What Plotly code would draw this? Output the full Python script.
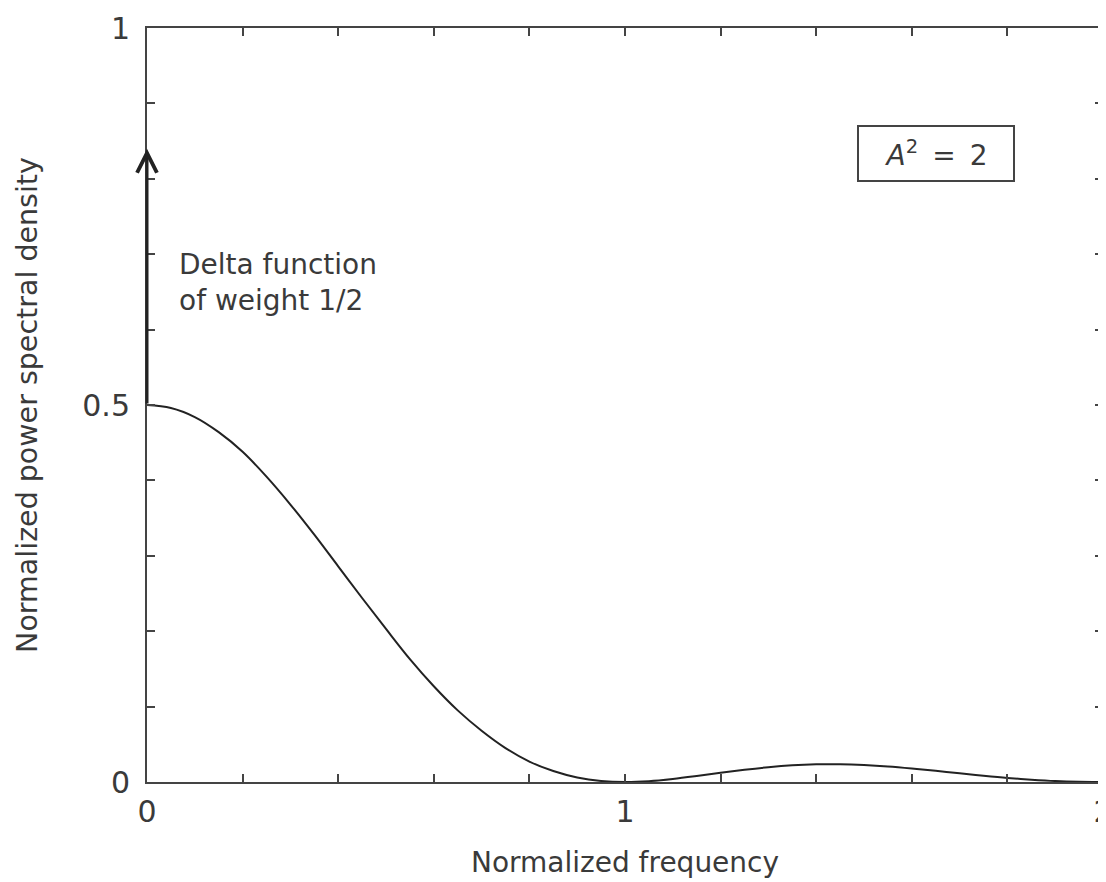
import plotly.graph_objects as go

# Data
freq = [0.0, 0.05, 0.1, 0.15, 0.2, 0.25, 0.3, 0.35, 0.4, 0.45, 0.5, 0.55, 0.6, 0.65, 0.7,
        0.75, 0.8, 0.85, 0.9, 0.95, 1.0, 1.05, 1.1, 1.15, 1.2, 1.25, 1.3, 1.35, 1.4, 1.45,
        1.5, 1.55, 1.6, 1.65, 1.7, 1.75, 1.8, 1.85, 1.9, 1.95, 2.0]
psd = [0.500, 0.496, 0.484, 0.464, 0.438, 0.405, 0.368, 0.328, 0.286, 0.244, 0.203, 0.163,
       0.127, 0.095, 0.068, 0.045, 0.027, 0.0145, 0.006, 0.0014, 0.0, 0.0011, 0.004, 0.0079,
       0.0122, 0.0162, 0.0196, 0.0221, 0.0234, 0.0235, 0.0225, 0.0206, 0.0179, 0.0148,
       0.0115, 0.0083, 0.0054, 0.0031, 0.0013, 0.0003, 0.0]
delta_x = 0.0
delta_base = 0.5
delta_tip = 0.84
x_ticklabels = ["0", "1", "2"]
y_ticklabels = ["0", "0.5", "1"]

FONT = "DejaVu Sans"
AXC = "#444444"
TXT = "#3a3a3a"

fig = go.Figure()
fig.add_trace(go.Scatter(x=freq, y=psd, mode="lines", line=dict(color="#222222", width=2, shape="spline"),
                         hoverinfo="skip", showlegend=False))

# Delta arrow
fig.add_annotation(x=delta_x, y=delta_tip, ax=delta_x, ay=delta_base, xref="x", yref="y",
                   axref="x", ayref="y", showarrow=True, arrowhead=5, arrowsize=1.3,
                   arrowwidth=3, arrowcolor="#222222", text="")
fig.add_annotation(x=0.063, y=0.663, xref="x", yref="y", xanchor="left", yanchor="middle",
                   text="Delta function<br>of weight 1/2", showarrow=False, align="left",
                   font=dict(family=FONT, size=28, color=TXT))
fig.add_annotation(x=1.651, y=0.833, xref="x", yref="y", showarrow=False,
                   text="<i>A</i><sup>2</sup>\u2002=\u20022", width=148, height=47, borderpad=3,
                   bordercolor=AXC, borderwidth=2, bgcolor="white",
                   font=dict(family=FONT, size=28, color=TXT))

axis_common = dict(showgrid=False, zeroline=False, showline=True, linecolor=AXC, linewidth=2,
                   mirror="ticks", ticks="inside", ticklen=8, tickwidth=2, tickcolor=AXC,
                   ticklabeloverflow="allow",
                   tickfont=dict(family=FONT, size=30, color=TXT))

fig.update_xaxes(range=[0, 2], tickmode="array", tickvals=[0, 0.2, 0.4, 0.6, 0.8, 1, 1.2, 1.4, 1.6, 1.8, 2],
                 ticktext=[x_ticklabels[0], "", "", "", "", x_ticklabels[1], "", "", "", "", x_ticklabels[2]],
                 ticklabelstandoff=2,
                 title=dict(text="Normalized frequency", font=dict(family=FONT, size=28, color=TXT), standoff=24),
                 **axis_common)
fig.update_yaxes(range=[0, 1], tickmode="array", tickvals=[i / 10 for i in range(11)],
                 ticktext=[y_ticklabels[0], "", "", "", "", y_ticklabels[1], "", "", "", "", y_ticklabels[2]],
                 ticklabelstandoff=9,
                 title=dict(text="Normalized power spectral density", font=dict(family=FONT, size=28.5, color=TXT), standoff=36),
                 **axis_common)

# the page body adds an 8px offset, so the figure is 8px smaller and margins compensate
fig.update_layout(width=1098, height=874, margin=dict(l=139, r=3, t=20, b=100, autoexpand=False),
                  plot_bgcolor="white", paper_bgcolor="white", showlegend=False)

fig.write_html("out.html")
